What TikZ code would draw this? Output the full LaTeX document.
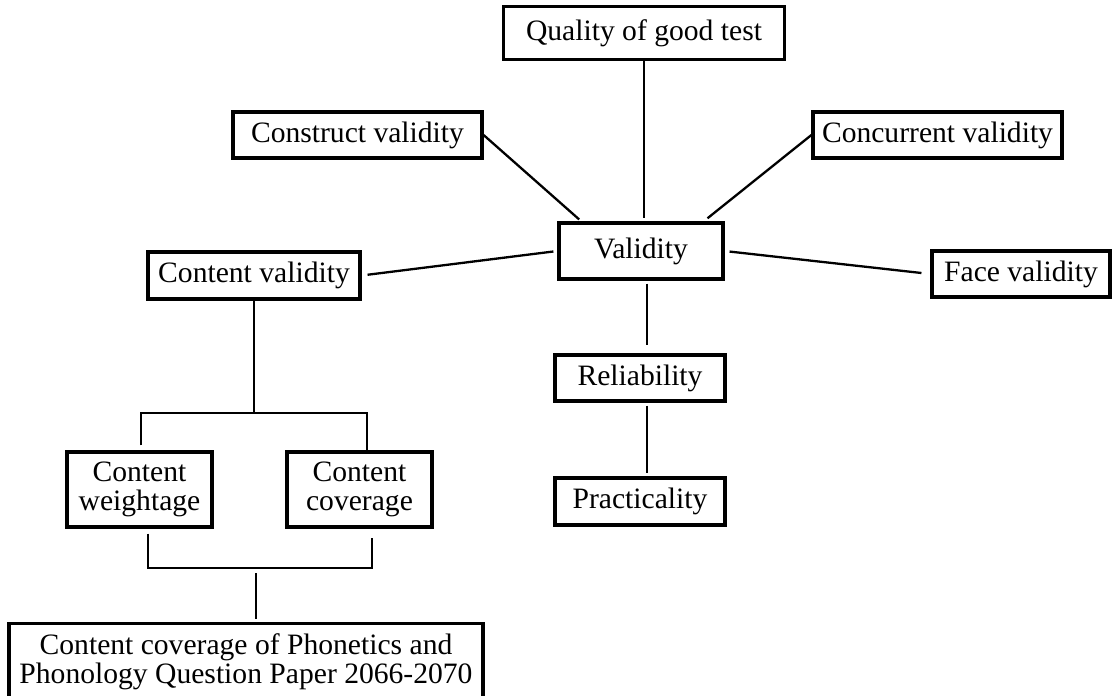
\documentclass[tikz,border=0pt]{standalone}
\usepackage{fontspec}
\setmainfont{Liberation Serif}
\usetikzlibrary{positioning}
\usetikzlibrary{calc}

\begin{document}
\begin{tikzpicture}[x=0.5pt, y=-0.5pt,
  font=\fontsize{14.8pt}{14.5pt}\selectfont,
  box/.style={draw, line width=1.6pt, inner sep=0pt, align=center},
  link/.style={line width=1.15pt}]
\path[use as bounding box, clip] (0,0) rectangle (1114,696);
% top level
\node[box, minimum width=140.5pt, minimum height=26.5pt]
  (qual) at (644,33) {Quality of good test};
\node[box, minimum width=82pt, minimum height=28pt]
  (val) at (641,251) {Validity};
\node[box, minimum width=124.5pt, minimum height=23pt]
  (cons) at (357.5,135) {Construct validity};
\node[box, minimum width=124.5pt, minimum height=23pt]
  (conc) at (937.5,135) {Concurrent validity};
\node[box, minimum width=106pt, minimum height=23.5pt]
  (cval) at (254,275.5) {Content validity};
\node[box, minimum width=89pt, minimum height=23pt]
  (face) at (1021,274) {Face validity};
\node[box, minimum width=85pt, minimum height=23pt]
  (rel) at (640,378) {Reliability};
\node[box, minimum width=85pt, minimum height=23.5pt]
  (prac) at (640,501.5) {Practicality};
% content branch
\node[box, minimum width=72.5pt, minimum height=37.5pt]
  (wt) at (139.5,489.5) {Content\\weightage};
\node[box, minimum width=72.5pt, minimum height=37.5pt]
  (cov) at (359.5,489.5) {Content\\coverage};
\node[box, anchor=north, minimum width=237pt, inner ysep=5pt]
  (paper) at (246,622) {Content coverage of Phonetics and\\Phonology Question Paper 2066-2070};
\coordinate (split) at (254,413);
\coordinate (join) at (256,568);

\draw[link, shorten >=1.5pt] (qual.south) -- (qual.south |- val.north);
\draw[link, shorten >=1.5pt] (cons.east) -- ([xshift=12pt]val.north west);
\draw[link, shorten >=2.5pt] (conc.west) -- ([xshift=-10.5pt]val.north east);
\draw[link, shorten <=3pt, shorten >=2pt] (cval.east) -- (val.west);
\draw[link, shorten <=2.5pt, shorten >=4.5pt] (val.east) -- (face.west);
\draw[link, shorten <=1.5pt, shorten >=4pt] ([xshift=3pt]val.south) -- ([xshift=3pt]val.south |- rel.north);
\draw[link, shorten <=1.5pt, shorten >=1.5pt] ([xshift=3.5pt]rel.south) -- ([xshift=3.5pt]rel.south |- prac.north);
\draw[link] (cval.south) -- (split);
\draw[link, shorten <=2.5pt] ([xshift=0.75pt]wt.north) |- (split) -| ([xshift=3.75pt]cov.north);
\draw[link, shorten <=2.5pt, shorten >=4.5pt] ([xshift=4.25pt]wt.south) |- (join) -| ([xshift=6.25pt]cov.south);
\draw[link, shorten <=2.5pt, shorten >=1.5pt] (join) -- (join |- paper.north);
\end{tikzpicture}
\end{document}
